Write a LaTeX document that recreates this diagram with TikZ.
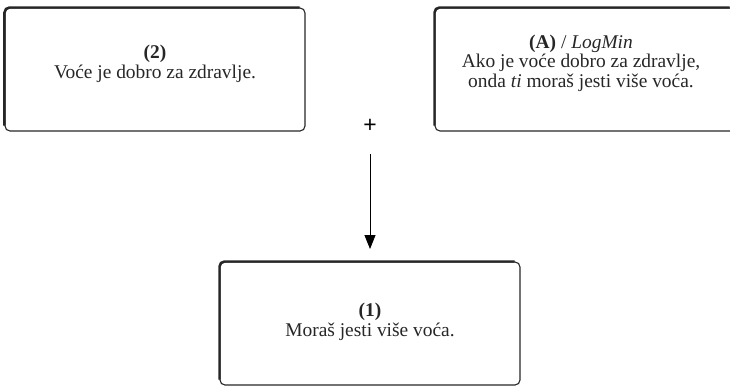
\documentclass[tikz,border=0pt]{standalone}
\usepackage{fontspec}
\setmainfont{Liberation Serif}
\newfontfamily\plusfont{Liberation Sans}
\usetikzlibrary{arrows.meta}
\begin{document}
\begin{tikzpicture}[x=1bp,y=-1bp,
  box/.style={draw=black!85, line width=1.1bp, rounded corners=5bp, minimum width=300bp, minimum height=123bp, inner sep=0pt},
  txt/.style={align=center, font=\fontsize{19.5}{19.5}\selectfont, text=black!85},
  edge/.style={line width=2.4bp, draw=black!85, rounded corners=5bp}]
\useasboundingbox (0,0) rectangle (730,386);
\node[box] (b2) at (155,69.5) {};
\node[box] (bA) at (585,69.5) {};
\node[box] (b1) at (370,323.5) {};
\foreach \b in {b2,bA,b1}{
  \draw[edge] ([yshift=6bp]\b.south west) -- (\b.north west) -- ([xshift=-6bp]\b.north east);
}
\node[txt] (t2) at (155,64) {\textbf{(2)}\\Voće je dobro za zdravlje.};
\node[txt] (tA) at (581,63) {\textbf{(A)} / \textit{LogMin}\\Ako je voće dobro za zdravlje,\\onda \textit{ti} moraš jesti više voća.};
\node[txt] (t1) at (370,322) {\textbf{(1)}\\Moraš jesti više voća.};
\node[font=\plusfont\fontsize{23}{23}\selectfont] (plus) at (370,126) {+};
\coordinate (s) at (370,154);
\draw[line width=0.9bp, -{Triangle[length=14bp,width=11bp]}] (s) -- (b1.north |- 0,249);
\end{tikzpicture}
\end{document}
